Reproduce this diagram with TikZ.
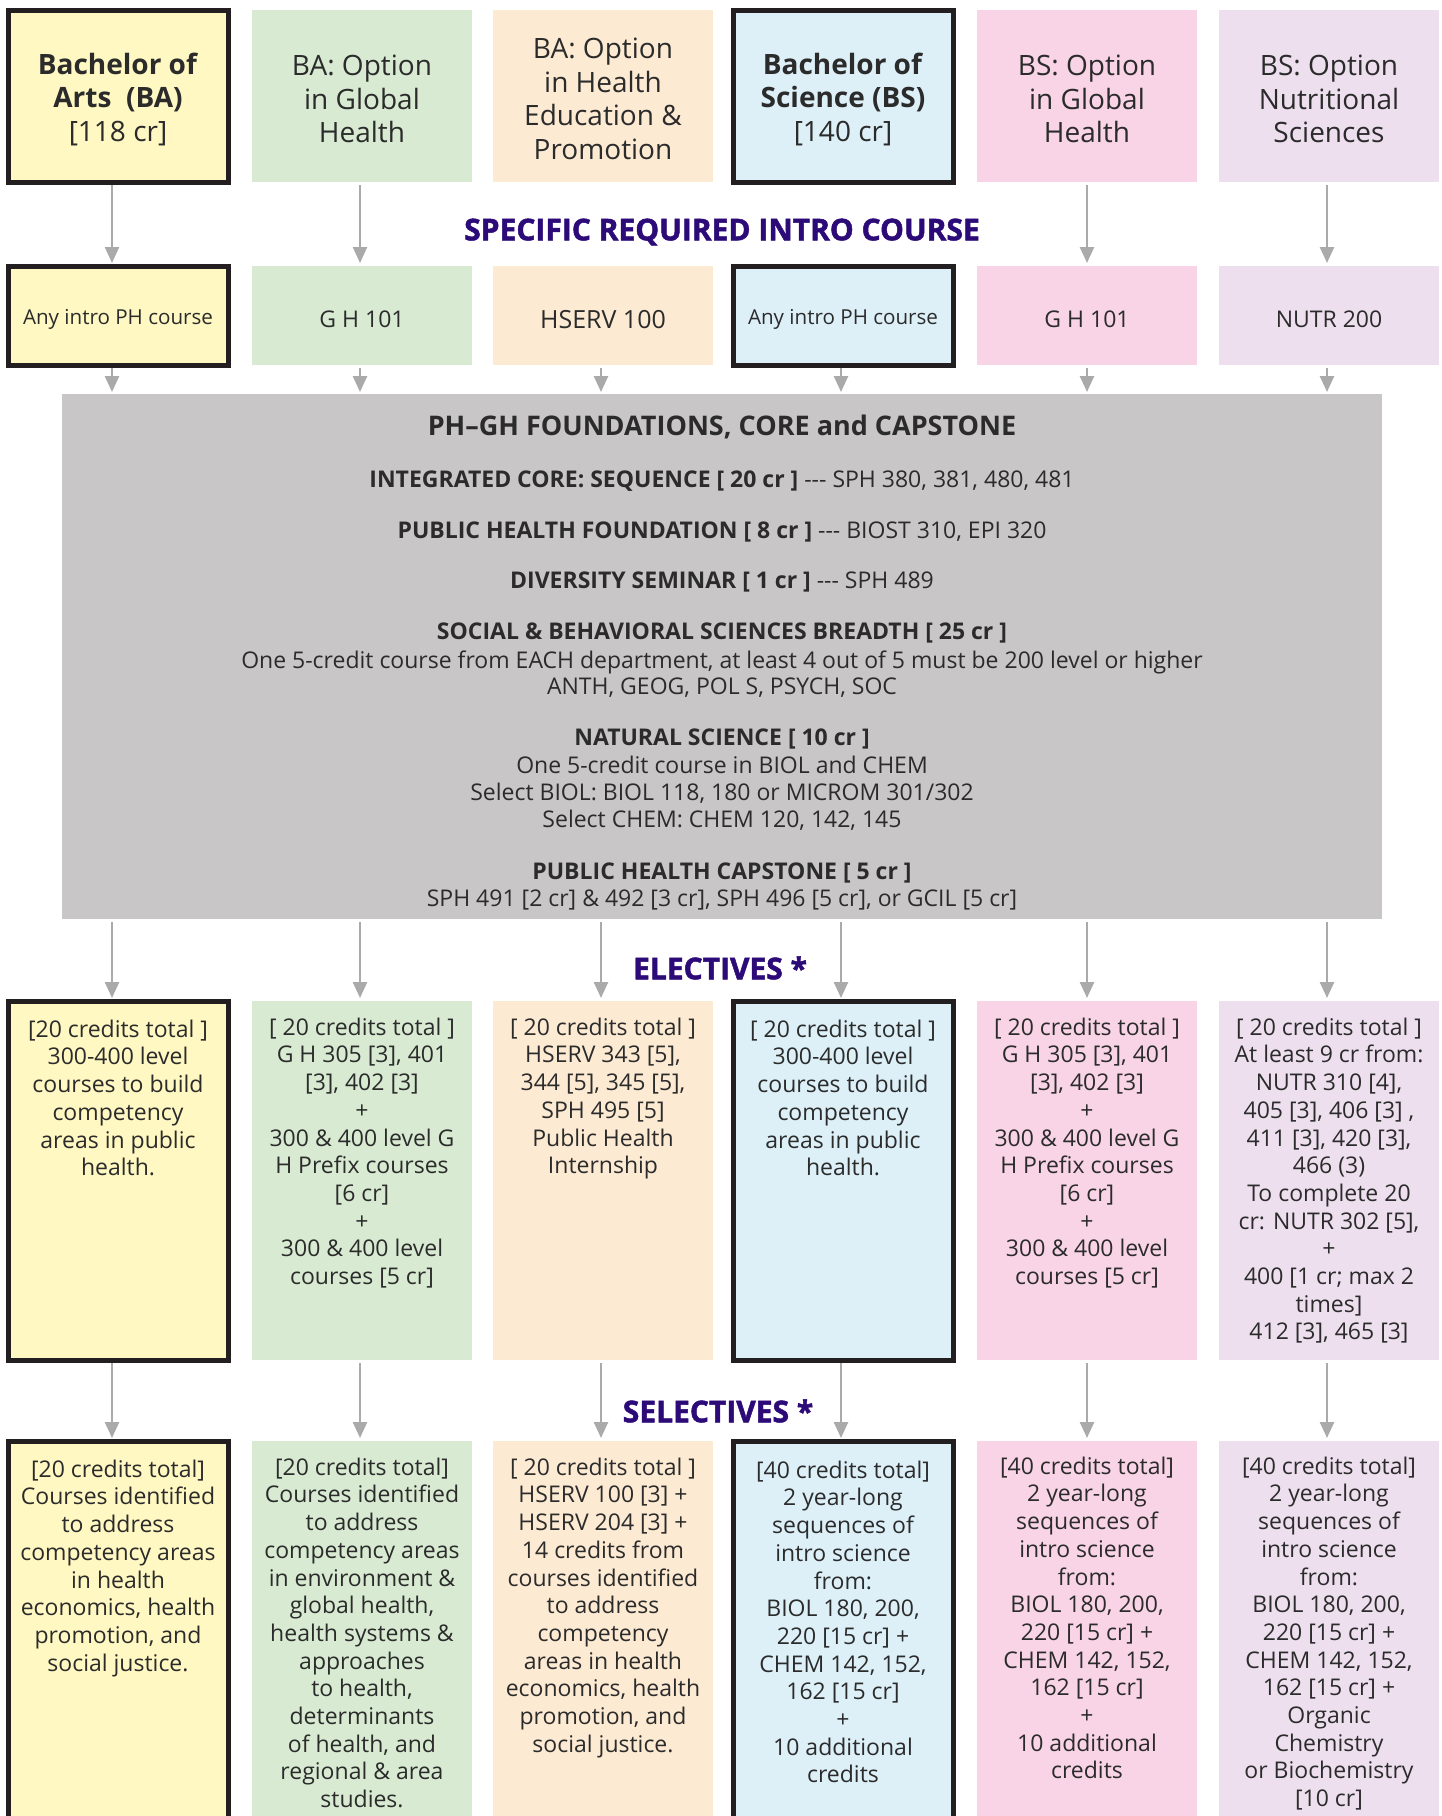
\documentclass[tikz,border=0pt]{standalone}
\usepackage{fontspec}
\setmainfont{Open Sans}
\newfontfamily\headfont{Open Sans}[BoldFeatures={FakeBold=1.6}]
\usetikzlibrary{arrows.meta,calc}
\definecolor{cyel}{HTML}{FFF8C2}
\definecolor{cgrn}{HTML}{D8EBD2}
\definecolor{cpch}{HTML}{FDEAD3}
\definecolor{cblu}{HTML}{DDF0F8}
\definecolor{cpnk}{HTML}{F8D4E6}
\definecolor{clav}{HTML}{EDDFEE}
\definecolor{cgry}{HTML}{C8C6C7}
\definecolor{carr}{HTML}{AAAAAA}
\definecolor{chead}{HTML}{2C0A78}
\definecolor{ctxt}{HTML}{2B2B2B}
\definecolor{cbord}{HTML}{231F20}
\begin{document}
\begin{tikzpicture}[x=1pt,y=-1pt,
  cell/.style={minimum width=220pt, inner sep=0pt, outer sep=0pt, anchor=north west},
  heavy/.style={draw=cbord, line width=5pt},
  toptext/.style={font=\fontsize{28}{33.5}\selectfont, align=center, text=ctxt, inner sep=0pt},
  introtext/.style={font=\fontsize{23}{28}\selectfont, align=center, text=ctxt, inner sep=0pt},
  smalltext/.style={font=\fontsize{20.6}{24}\selectfont, align=center, text=ctxt, inner sep=0pt},
  boxtext/.style={font=\fontsize{23}{27.7}\selectfont, align=center, text=ctxt, inner sep=0pt, anchor=north},
  coretext/.style={font=\fontsize{23}{27}\selectfont, text=ctxt, inner sep=0pt, anchor=base},
  heading/.style={font=\fontsize{30}{36}\headfont\bfseries, text=chead, inner sep=0pt},
  arr/.style={draw=carr, line width=2.5pt, -{Triangle[length=16pt,width=14pt]}}
]
\useasboundingbox (0,0) rectangle (1442,1816);
\clip (0,0) rectangle (1442,1816);
\fill[white] (0,0) rectangle (1442,1816);

% ---------- top row ----------
\node[cell, minimum height=172pt, fill=cyel, heavy] (tba) at (8,10) {};
\node[cell, minimum height=172pt, fill=cgrn] (tgh) at (252,10) {};
\node[cell, minimum height=172pt, fill=cpch] (the) at (493,10) {};
\node[cell, minimum height=172pt, fill=cblu, heavy] (tbs) at (733,10) {};
\node[cell, minimum height=172pt, fill=cpnk] (tsg) at (977,10) {};
\node[cell, minimum height=172pt, fill=clav] (tnu) at (1219,10) {};
\node[toptext] (tbat) at ([yshift=-3pt]tba.center) {\textbf{Bachelor of}\\\textbf{Arts\ \ (BA)}\\{[118 cr]}};
\node[toptext] (tght) at ([yshift=-3pt]tgh.center) {BA: Option\\in Global\\Health};
\node[toptext] (thet) at ([yshift=-3pt]the.center) {BA: Option\\in Health\\Education \&\\Promotion};
\node[toptext] (tbst) at ([yshift=-3pt]tbs.center) {\textbf{Bachelor of}\\\textbf{Science (BS)}\\{[140 cr]}};
\node[toptext] (tsgt) at ([yshift=-3pt]tsg.center) {BS: Option\\in Global\\Health};
\node[toptext] (tnut) at ([yshift=-3pt]tnu.center) {BS: Option\\Nutritional\\Sciences};

\node[heading] (hspec) at (722,232) {SPECIFIC REQUIRED INTRO COURSE};

% ---------- intro row ----------
\node[cell, minimum height=99pt, fill=cyel, heavy] (iba) at (8,266) {};
\node[cell, minimum height=99pt, fill=cgrn] (igh) at (252,266) {};
\node[cell, minimum height=99pt, fill=cpch] (ihe) at (493,266) {};
\node[cell, minimum height=99pt, fill=cblu, heavy] (ibs) at (733,266) {};
\node[cell, minimum height=99pt, fill=cpnk] (isg) at (977,266) {};
\node[cell, minimum height=99pt, fill=clav] (inu) at (1219,266) {};
\node[smalltext] (ibat) at ([yshift=-4pt]iba.center) {Any intro PH course};
\node[introtext] (ight) at ([yshift=-4pt]igh.center) {G H 101};
\node[introtext, font=\fontsize{25}{30}\selectfont] (ihet) at ([yshift=-4pt]ihe.center) {HSERV 100};
\node[smalltext] (ibst) at ([yshift=-4pt]ibs.center) {Any intro PH course};
\node[introtext] (isgt) at ([yshift=-4pt]isg.center) {G H 101};
\node[introtext] (inut) at ([yshift=-4pt]inu.center) {NUTR 200};

% ---------- core ----------
\node[fill=cgry, minimum width=1320pt, minimum height=525pt, anchor=north west, inner sep=0pt, outer sep=0pt] (core) at (62,394) {};
\node[coretext, font=\fontsize{27}{30}\selectfont\bfseries] (c1) at (722,435) {PH–GH FOUNDATIONS, CORE and CAPSTONE};
\node[coretext] (c2) at (722,487) {\textbf{INTEGRATED CORE: SEQUENCE [ 20 cr ]} -{}-{}- SPH 380, 381, 480, 481};
\node[coretext] (c3) at (722,538) {\textbf{PUBLIC HEALTH FOUNDATION [ 8 cr ]} -{}-{}- BIOST 310, EPI 320};
\node[coretext] (c4) at (722,588) {\textbf{DIVERSITY SEMINAR [ 1 cr ]} -{}-{}- SPH 489};
\node[coretext] (c5) at (722,639) {\textbf{SOCIAL \& BEHAVIORAL SCIENCES BREADTH [ 25 cr ]}};
\node[coretext] (c6) at (722,668) {One 5-credit course from EACH department, at least 4 out of 5 must be 200 level or higher};
\node[coretext] (c7) at (722,694) {ANTH, GEOG, POL S, PSYCH, SOC};
\node[coretext] (c8) at (722,745) {\textbf{NATURAL SCIENCE [ 10 cr ]}};
\node[coretext] (c9) at (722,773) {One 5-credit course in BIOL and CHEM};
\node[coretext] (c10) at (722,800) {Select BIOL: BIOL 118, 180 or MICROM 301/302};
\node[coretext] (c11) at (722,827) {Select CHEM: CHEM 120, 142, 145};
\node[coretext] (c12) at (722,879) {\textbf{PUBLIC HEALTH CAPSTONE [ 5 cr ]}};
\node[coretext] (c13) at (722,906) {SPH 491 [2 cr] \& 492 [3 cr], SPH 496 [5 cr], or GCIL [5 cr]};

\node[heading] (helec) at (720,968) {ELECTIVES *};

% ---------- electives ----------
\node[cell, minimum height=359pt, fill=cyel, heavy] (eba) at (8,1001) {};
\node[cell, minimum height=359pt, fill=cgrn] (egh) at (252,1001) {};
\node[cell, minimum height=359pt, fill=cpch] (ehe) at (493,1001) {};
\node[cell, minimum height=359pt, fill=cblu, heavy] (ebs) at (733,1001) {};
\node[cell, minimum height=359pt, fill=cpnk] (esg) at (977,1001) {};
\node[cell, minimum height=359pt, fill=clav] (enu) at (1219,1001) {};

\node[boxtext] (ebat) at ([yshift=-16pt]eba.north) {\rule{0pt}{20pt}[20 credits total ]\\300-400 level\\courses to build\\competency\\areas in public\\health.};
\node[boxtext] (eght) at ([yshift=-14pt]egh.north) {\rule{0pt}{20pt}[ 20 credits total ]\\G H 305 [3], 401\\{[3], 402 [3]}\\+\\300 \& 400 level G\\H Prefix courses\\{[6 cr]}\\+\\300 \& 400 level\\courses [5 cr]};
\node[boxtext] (ehet) at ([yshift=-14pt]ehe.north) {\rule{0pt}{20pt}[ 20 credits total ]\\HSERV 343 [5],\\344 [5], 345 [5],\\SPH 495 [5]\\Public Health\\Internship};
\node[boxtext] (ebst) at ([yshift=-16pt]ebs.north) {\rule{0pt}{20pt}[ 20 credits total ]\\300-400 level\\courses to build\\competency\\areas in public\\health.};
\node[boxtext] (esgt) at ([yshift=-14pt]esg.north) {\rule{0pt}{20pt}[ 20 credits total ]\\G H 305 [3], 401\\{[3], 402 [3]}\\+\\300 \& 400 level G\\H Prefix courses\\{[6 cr]}\\+\\300 \& 400 level\\courses [5 cr]};
\node[boxtext] (enut) at ([yshift=-14pt]enu.north) {\rule{0pt}{20pt}[ 20 credits total ]\\At least 9 cr from:\\NUTR 310 [4],\\405 [3], 406 [3] ,\\411 [3], 420 [3],\\466 (3)\\To complete 20\\cr: NUTR 302 [5],\\+\\400 [1 cr; max 2\\times]\\412 [3], 465 [3]};

\node[heading] (hsel) at (718,1411) {SELECTIVES *};

% ---------- selectives ----------
\node[cell, minimum height=400pt, fill=cyel, heavy] (sba) at (8,1441) {};
\node[cell, minimum height=400pt, fill=cgrn] (sgh) at (252,1441) {};
\node[cell, minimum height=400pt, fill=cpch] (she) at (493,1441) {};
\node[cell, minimum height=400pt, fill=cblu, heavy] (sbs) at (733,1441) {};
\node[cell, minimum height=400pt, fill=cpnk] (ssg) at (977,1441) {};
\node[cell, minimum height=400pt, fill=clav] (snu) at (1219,1441) {};

\node[boxtext] (sbat) at ([yshift=-16pt]sba.north) {\rule{0pt}{20pt}[20 credits total]\\Courses identified\\to address\\competency areas\\in health\\economics, health\\promotion, and\\social justice.};
\node[boxtext] (sght) at ([yshift=-14pt]sgh.north) {\rule{0pt}{20pt}[20 credits total]\\Courses identified\\to address\\competency areas\\in environment \&\\global health,\\health systems \&\\approaches\\to health,\\determinants\\of health, and\\regional \& area\\studies.};
\node[boxtext] (shet) at ([yshift=-14pt]she.north) {\rule{0pt}{20pt}[ 20 credits total ]\\HSERV 100 [3] +\\HSERV 204 [3] +\\14 credits from\\courses identified\\to address\\competency\\areas in health\\economics, health\\promotion, and\\social justice.};
\node[boxtext] (sbst) at ([yshift=-17pt]sbs.north) {\rule{0pt}{20pt}[40 credits total]\\2 year-long\\sequences of\\intro science\\from:\\BIOL 180, 200,\\220 [15 cr] +\\CHEM 142, 152,\\162 [15 cr]\\+\\10 additional\\credits};
\node[boxtext] (ssgt) at ([yshift=-13pt]ssg.north) {\rule{0pt}{20pt}[40 credits total]\\2 year-long\\sequences of\\intro science\\from:\\BIOL 180, 200,\\220 [15 cr] +\\CHEM 142, 152,\\162 [15 cr]\\+\\10 additional\\credits};
\node[boxtext] (snut) at ([yshift=-13pt]snu.north) {\rule{0pt}{20pt}[40 credits total]\\2 year-long\\sequences of\\intro science\\from:\\BIOL 180, 200,\\220 [15 cr] +\\CHEM 142, 152,\\162 [15 cr] +\\Organic\\Chemistry\\or Biochemistry\\{[10 cr]}};

% ---------- arrows ----------
\foreach \c/\s in {ba/-6, gh/-2, sg/0, nu/-2}
  \draw[arr, shorten <=3pt, shorten >=3pt] ([xshift=\s pt]t\c.south) -- ([xshift=\s pt]i\c.north);
\foreach \c/\s in {ba/-6, gh/-2, he/-2, bs/-2, sg/0, nu/-2}{
  \draw[arr, shorten <=3pt, shorten >=2pt] ([xshift=\s pt]i\c.south) -- ([xshift=\s pt]i\c.south |- core.north);
  \draw[arr, shorten <=3pt, shorten >=3pt] ([xshift=\s pt]e\c.north |- core.south) -- ([xshift=\s pt]e\c.north);
  \draw[arr, shorten <=3pt, shorten >=3pt] ([xshift=\s pt]e\c.south) -- ([xshift=\s pt]s\c.north);
}
\end{tikzpicture}
\end{document}
